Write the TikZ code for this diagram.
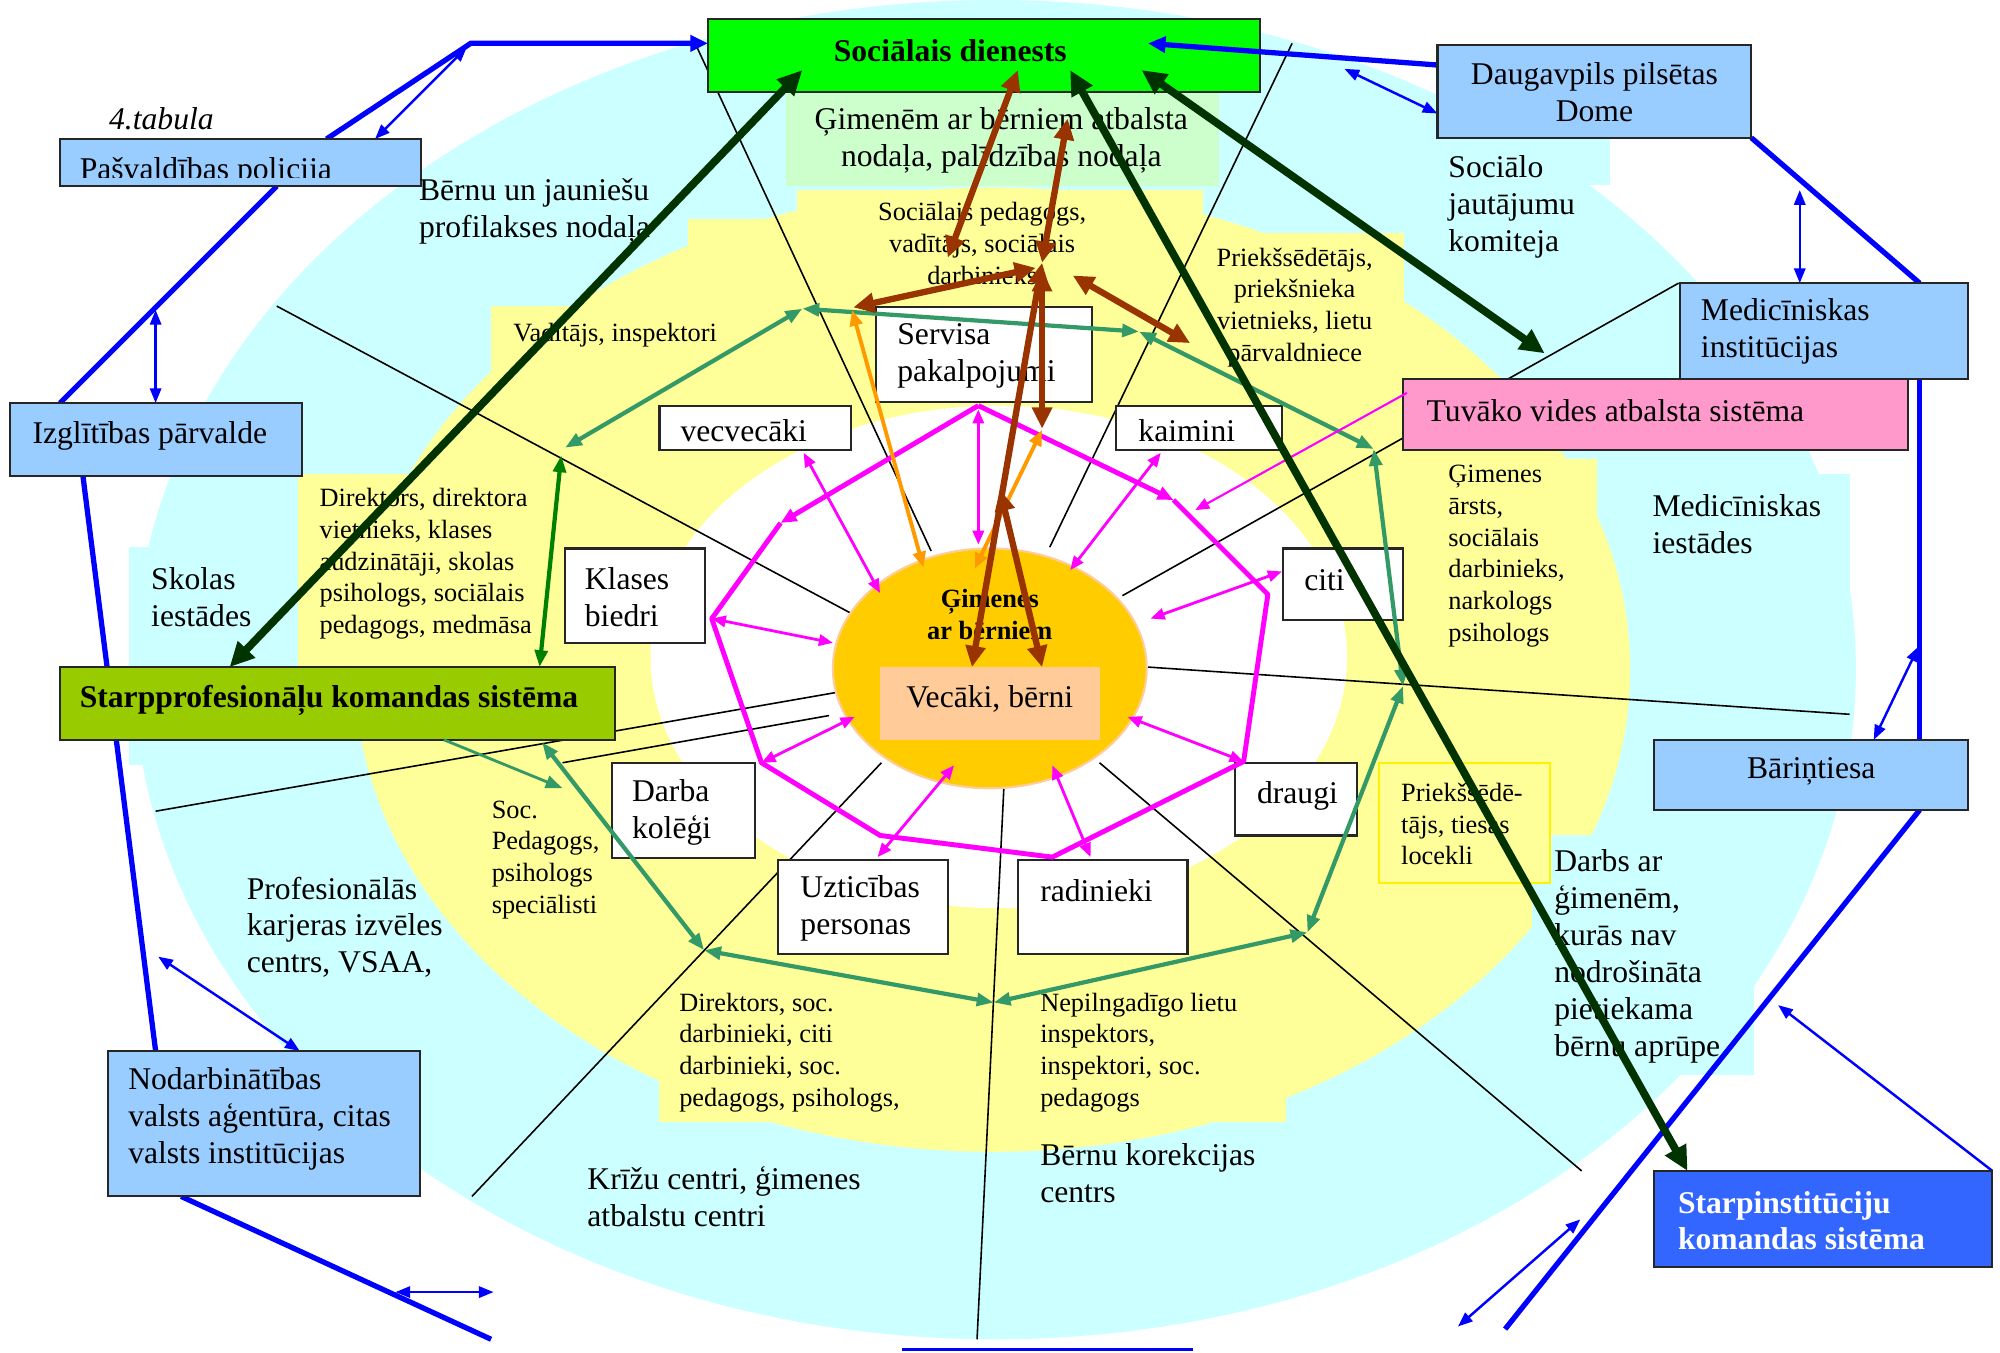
\documentclass[tikz,border=0pt]{standalone}
\usepackage{fontspec}
\setmainfont{Liberation Serif}
\usetikzlibrary{arrows.meta,fit}

\definecolor{cyanbg}{HTML}{CCFFFF}
\definecolor{yellowbg}{HTML}{FFFF99}
\definecolor{greenbg}{HTML}{CCFFCC}
\definecolor{gimorange}{HTML}{FFCC00}
\definecolor{peach}{HTML}{FFCC99}
\definecolor{boxblue}{HTML}{99CCFF}
\definecolor{pinkbox}{HTML}{FF99CC}
\definecolor{socgreen}{HTML}{00FF00}
\definecolor{olivebox}{HTML}{99CC00}
\definecolor{royalbox}{HTML}{3366FF}
\definecolor{linkblue}{HTML}{0000FF}
\definecolor{darkgr}{HTML}{003300}
\definecolor{brownarr}{HTML}{993300}
\definecolor{orangearr}{HTML}{FF9900}
\definecolor{seagreen}{HTML}{339966}
\definecolor{midgreen}{HTML}{008000}
\definecolor{magentaarr}{HTML}{FF00FF}

\newcommand{\bigfont}{\fontsize{9}{10.5}\selectfont}
\newcommand{\smallfont}{\fontsize{7.5}{9}\selectfont}

\tikzset{
  box/.style={draw=black!85,line width=0.6pt,inner sep=0pt},
  bigtext/.style={font=\bigfont,align=left,anchor=west,inner sep=0pt},
  smalltext/.style={font=\smallfont,align=left,anchor=west,inner sep=0pt},
  spoke/.style={black,line width=0.45pt},
  bluethick/.style={linkblue,line width=1.5pt,>={Triangle[length=5pt,width=4.5pt]}},
  bluethin/.style={linkblue,line width=0.7pt,<->,>={Triangle[length=4.2pt,width=3.2pt]}},
  dgarrow/.style={darkgr,line width=2.2pt,<->,>={Triangle[length=7pt,width=6.5pt]}},
  brarrow/.style={brownarr,line width=1.8pt,<->,>={Triangle[length=6pt,width=5.5pt]}},
  orarrow/.style={orangearr,line width=1.1pt,<->,>={Triangle[length=4.5pt,width=3.6pt]}},
  grarrow/.style={seagreen,line width=1.2pt,<->,>={Triangle[length=4.8pt,width=3.6pt]}},
  mgring/.style={magentaarr,line width=1.4pt,>={Triangle[length=4.5pt,width=3.8pt]}},
  mgarrow/.style={magentaarr,line width=0.8pt,<->,>={Triangle[length=4pt,width=3.2pt]}}
}

\begin{document}
\begin{tikzpicture}[x=0.012755cm,y=-0.012755cm]
	\useasboundingbox (0,0) rectangle (1568,1060);
	% layers
	\fill[cyanbg] (780,525) ellipse [x radius=675,y radius=525];
	\fill[cyanbg] (1120,100) rectangle (1262,145);
	\fill[cyanbg] (101,429) rectangle (240,600);
	\fill[cyanbg] (1290,372) rectangle (1450,600);
	\fill[yellowbg] (778,525) ellipse [x radius=500,y radius=378];
	\fill[yellowbg] (625,149) rectangle (943,240);
	\fill[yellowbg] (935,183) rectangle (1101,295);
	\fill[yellowbg] (539,172) rectangle (625,240);
	\fill[yellowbg] (385,240) rectangle (560,300);
	\fill[yellowbg] (234,372) rectangle (430,523);
	\fill[yellowbg] (367,600) rectangle (470,737);
	\fill[yellowbg] (517,770) rectangle (700,880);
	\fill[yellowbg] (798,770) rectangle (1008,880);
	\fill[yellowbg] (1125,360) rectangle (1252,510);
	\fill[cyanbg] (1201,655) rectangle (1375,843);
	\fill[white] (783,515) ellipse [x radius=273,y radius=197];
	\fill[greenbg] (616,72) rectangle (956,146);

	% spokes
	\draw[spoke] (545,34) -- (730,432);
	\draw[spoke] (1013,34) -- (823,429);
	\draw[spoke] (217,240) -- (675,485);
	\draw[spoke] (880,467) -- (1316,222);
	\draw[spoke] (900,523) -- (1450,560);
	\draw[spoke] (122,636) -- (655,543);
	\draw[spoke] (441,598) -- (650,561);
	\draw[spoke] (370,938) -- (691,598);
	\draw[spoke] (787,618) -- (766,1050);
	\draw[spoke] (862,598) -- (1240,918);

	% family circle
	\fill[gimorange,draw=peach,line width=0.6pt] (776,524) ellipse [x radius=123,y radius=94];
	\node[fill=peach,inner sep=0pt,fit={(690,523) (862,580)}] (vb) {};
	\node[font=\bigfont,inner sep=0pt] (vbtext) at (776,548) {Vecāki, bērni};
	\node[font=\smallfont\bfseries,align=center,inner sep=0pt] (gimtext) at (776,482) {Ģimenes\\ar bērniem};

	\node[box,fill=socgreen,fit={(555,15) (988,72)}] (soc) {};
	\node[font=\bigfont\bfseries,inner sep=0pt] (soctext) at (745,40) {Sociālais dienests};

	% outer blue links
	\coordinate (pasvA) at (256,109); \coordinate (bendA) at (369,34); \coordinate (socW) at (555,34);
	\coordinate (pasvB) at (217,146); \coordinate (izglA) at (47,316);
	\coordinate (izglB) at (65,373); \coordinate (nodaA) at (122,824);
	\coordinate (nodaB) at (142,938); \coordinate (lowA) at (385,1050);
	\coordinate (domeA) at (1127,51); \coordinate (socE) at (900,34);
	\coordinate (domeB) at (1373,108); \coordinate (mediA) at (1505,222);
	\coordinate (mediB) at (1505,297); \coordinate (barA) at (1505,580);
	\coordinate (barB) at (1505,635); \coordinate (lowB) at (1180,1042);
	\draw[bluethick,->] (pasvA) -- (bendA) -- (socW);
	\draw[bluethick] (pasvB) -- (izglA);
	\draw[bluethick] (izglB) -- (nodaA);
	\draw[bluethick] (nodaB) -- (lowA);
	\draw[bluethick,->] (domeA) -- (socE);
	\draw[bluethick] (domeB) -- (mediA);
	\draw[bluethick] (mediB) -- (barA);
	\draw[bluethick] (barB) -- (lowB);
	\coordinate (t1a) at (294,109); \coordinate (t1b) at (366,37);
	\coordinate (t2a) at (122,243); \coordinate (t2b) at (122,316);
	\coordinate (t3a) at (124,750); \coordinate (t3b) at (235,824);
	\coordinate (t4a) at (310,1013); \coordinate (t4b) at (387,1013);
	\coordinate (t5a) at (1054,54); \coordinate (t5b) at (1127,89);
	\coordinate (t6a) at (1411,149); \coordinate (t6b) at (1411,222);
	\coordinate (t7a) at (1469,580); \coordinate (t7b) at (1504,507);
	\coordinate (t8a) at (1143,1040); \coordinate (t8b) at (1239,956);
	\coordinate (t9a) at (1562,918); \coordinate (t9b) at (1394,788);
	\draw[bluethin] (t1a) -- (t1b);
	\draw[bluethin] (t2a) -- (t2b);
	\draw[bluethin] (t3a) -- (t3b);
	\draw[bluethin] (t4a) -- (t4b);
	\draw[bluethin] (t5a) -- (t5b);
	\draw[bluethin] (t6a) -- (t6b);
	\draw[bluethin] (t7a) -- (t7b);
	\draw[bluethin] (t8a) -- (t8b);
	\draw[bluethin,->] (t9a) -- (t9b);
	\coordinate (botA) at (707,1058); \coordinate (botB) at (935,1058);
	\draw[linkblue,line width=1pt] (botA) -- (botB);

	% boxes
	\node[box,fill=boxblue,fit={(47,109) (330,146)}] (pasv) {};
	\begin{scope}
		\clip (47,109) rectangle (330,139.5);
		\node[bigtext,anchor=base west] (pasvtext) at (62,141) {Pašvaldības policija};
	\end{scope}
	\node[box,fill=boxblue,fit={(8,316) (237,373)}] (izgl) {};
	\node[bigtext] (izgltext) at (25,342) {Izglītības pārvalde};
	\node[box,fill=boxblue,fit={(1127,35) (1373,108)}] (dome) {};
	\node[bigtext,anchor=center,align=center] (dometext) at (1250,72) {Daugavpils pilsētas\\Dome};
	\node[box,fill=boxblue,fit={(1317,222) (1543,297)}] (medi) {};
	\node[bigtext] (meditext) at (1333,260) {Medicīniskas\\institūcijas};
	\node[box,fill=pinkbox,fit={(1100,297) (1496,353)}] (tuv) {};
	\node[bigtext] (tuvtext) at (1118,322) {Tuvāko vides atbalsta sistēma};
	\node[box,fill=boxblue,fit={(1297,580) (1543,635)}] (bar) {};
	\node[font=\bigfont,inner sep=0pt] (bartext) at (1420,605) {Bāriņtiesa};
	\node[box,fill=royalbox,fit={(1297,918) (1562,993)}] (starpi) {};
	\node[bigtext,font=\bigfont\bfseries,text=white] (starpitext) at (1315,957) {Starpinstitūciju\\komandas sistēma};
	\node[box,fill=boxblue,fit={(85,824) (329,938)}] (noda) {};
	\node[bigtext] (nodatext) at (100,877) {Nodarbinātības\\valsts aģentūra, citas\\valsts institūcijas};
	\node[box,fill=olivebox,fit={(47,523) (482,580)}] (starpp) {};
	\node[bigtext,font=\bigfont\bfseries] (starpptext) at (62,549) {Starpprofesionāļu komandas sistēma};
	\node[box,fill=white,fit={(687,241) (856,315)}] (serv) {};
	\node[bigtext] (servtext) at (703,279) {Servisa\\pakalpojumi};
	\node[box,fill=white,fit={(517,318) (667,353)}] (vecv) {};
	\node[bigtext] (vecvtext) at (533,338) {vecvecāki};
	\node[box,fill=white,fit={(875,318) (1005,353)}] (kaim) {};
	\node[bigtext] (kaimtext) at (892,338) {kaimini};
	\node[box,fill=white,fit={(443,430) (553,504)}] (klas) {};
	\node[bigtext] (klastext) at (458,468) {Klases\\biedri};
	\node[box,fill=white,fit={(1006,430) (1100,486)}] (citi) {};
	\node[bigtext] (cititext) at (1022,455) {citi};
	\node[box,fill=white,fit={(480,598) (592,673)}] (darb) {};
	\node[bigtext] (darbtext) at (495,637) {Darba\\kolēģi};
	\node[box,fill=white,fit={(968,598) (1064,655)}] (drau) {};
	\node[bigtext] (drautext) at (985,624) {draugi};
	\node[box,fill=white,fit={(610,674) (743,748)}] (uzti) {};
	\node[bigtext] (uztitext) at (627,712) {Uzticības\\personas};
	\node[box,fill=white,fit={(798,674) (931,748)}] (radi) {};
	\node[bigtext] (raditext) at (815,698) {radinieki};
	\node[box,draw=yellow,fill=yellowbg,fit={(1081,598) (1215,692)}] (prie) {};
	\node[smalltext] (prietext) at (1098,646) {Priekšsēdē-\\tājs, tiesas\\locekli};

	% labels
	\node[bigtext,font=\bigfont\itshape] (tabula) at (85,93) {4.tabula};
	\node[bigtext] (bjpn) at (328,166) {Bērnu un jauniešu\\profilakses nodaļa};
	\node[bigtext,anchor=center,align=center] (gimnod) at (785,110) {Ģimenēm ar bērniem atbalsta\\nodaļa, palīdzības nodaļa};
	\node[smalltext,anchor=center,align=center] (socped) at (770,191) {Sociālais pedagogs,\\vadītājs, sociālais\\darbinieks};
	\node[smalltext] (vaditajs) at (402,263) {Vadītājs, inspektori};
	\node[smalltext,anchor=center,align=center] (priek) at (1015,241) {Priekšsēdētājs,\\priekšnieka\\vietnieks, lietu\\pārvaldniece};
	\node[bigtext] (komit) at (1135,162) {Sociālo\\jautājumu\\komiteja};
	\node[bigtext] (mediest) at (1295,411) {Medicīniskas\\iestādes};
	\node[smalltext] (gimars) at (1135,436) {Ģimenes\\ārsts,\\sociālais\\darbinieks,\\narkologs\\psihologs};
	\node[bigtext] (skolas) at (118,468) {Skolas\\iestādes};
	\node[smalltext] (direkt) at (250,442) {Direktors, direktora\\vietnieks, klases\\audzinātāji, skolas\\psihologs, sociālais\\pedagogs, medmāsa};
	\node[smalltext] (socpsih) at (385,674) {Soc.\\Pedagogs,\\psihologs\\speciālisti};
	\node[bigtext] (prof) at (193,727) {Profesionālās\\karjeras izvēles\\centrs, VSAA,};
	\node[smalltext] (direkt2) at (532,825) {Direktors, soc.\\darbinieki, citi\\darbinieki, soc.\\pedagogs, psihologs,};
	\node[smalltext] (nepiln) at (815,825) {Nepilngadīgo lietu\\inspektors,\\inspektori, soc.\\pedagogs};
	\node[bigtext] (krizu) at (460,938) {Krīžu centri, ģimenes\\atbalstu centri};
	\node[bigtext] (korek) at (815,920) {Bērnu korekcijas\\centrs};
	\node[bigtext] (darbs) at (1218,750) {Darbs ar\\ģimenēm,\\kurās nav\\nodrošināta\\pietiekama\\bērnu aprūpe};

	% green ring
	\coordinate (p1) at (629,242); \coordinate (p2) at (893,260); \coordinate (p3) at (1077,352);
	\coordinate (p4) at (1100,538); \coordinate (p5) at (1025,731); \coordinate (p6) at (779,786);
	\coordinate (p7) at (552,745); \coordinate (p8) at (425,582); \coordinate (p9) at (443,351);
	\draw[grarrow] (p9) -- (p1);
	\draw[grarrow] (p1) -- (p2);
	\draw[grarrow] (p2) -- (p3);
	\draw[grarrow] (p3) -- (p4);
	\draw[grarrow] (p4) -- (p5);
	\draw[grarrow] (p5) -- (p6);
	\draw[grarrow] (p6) -- (p7);
	\draw[grarrow] (p7) -- (p8);
	\coordinate (p9b) at (440,357); \coordinate (starppN) at (423,523);
	\draw[grarrow,midgreen] (p9b) -- (starppN);
	\coordinate (starppS) at (348,580); \coordinate (e10) at (441,618);
	\draw[grarrow,->,line width=0.8pt] (starppS) -- (e10);

	% magenta ring
	\coordinate (m0) at (767,318); \coordinate (m1) at (612,410); \coordinate (m2) at (558,485);
	\coordinate (m3) at (597,598); \coordinate (m4) at (690,655); \coordinate (m5) at (825,672);
	\coordinate (m6) at (975,597); \coordinate (m7) at (994,466); \coordinate (m8) at (920,392);
	\draw[mgring,->] (m0) -- (m1);
	\draw[mgring,->] (m0) -- (m8);
	\draw[mgring,line join=round] (m1) -- (m2) -- (m3) -- (m4) -- (m5) -- (m6) -- (m7) -- (m8);
	\coordinate (k1a) at (767,321); \coordinate (k1b) at (767,427);
	\coordinate (k2a) at (630,355); \coordinate (k2b) at (690,465);
	\coordinate (k3a) at (910,355); \coordinate (k3b) at (839,447);
	\coordinate (k4a) at (1005,448); \coordinate (k4b) at (902,485);
	\coordinate (k5b) at (653,504);
	\coordinate (k6b) at (670,562);
	\coordinate (k7a) at (688,672); \coordinate (k7b) at (748,600);
	\coordinate (k8a) at (855,672); \coordinate (k8b) at (825,600);
	\coordinate (k9b) at (884,562);
	\coordinate (tuvW) at (1103,308); \coordinate (k10) at (937,400);
	\draw[mgarrow] (k1a) -- (k1b);
	\draw[mgarrow] (k2a) -- (k2b);
	\draw[mgarrow] (k3a) -- (k3b);
	\draw[mgarrow] (k4a) -- (k4b);
	\draw[mgarrow] (m2) -- (k5b);
	\draw[mgarrow] (m3) -- (k6b);
	\draw[mgarrow] (k7a) -- (k7b);
	\draw[mgarrow] (k8a) -- (k8b);
	\draw[mgarrow] (m6) -- (k9b);
	\draw[mgarrow,->,line width=0.6pt] (tuvW) -- (k10);

	% orange
	\coordinate (o1a) at (668,243); \coordinate (o1b) at (724,445);
	\coordinate (o2a) at (817,337); \coordinate (o2b) at (764,446);
	\draw[orarrow] (o1a) -- (o1b);
	\draw[orarrow] (o2a) -- (o2b);

	% brown
	\coordinate (hub) at (817,206);
	\coordinate (r1a) at (743,202); \coordinate (r1b) at (798,55);
	\coordinate (r2b) at (837,93);
	\coordinate (r3a) at (669,241); \coordinate (r3b) at (812,210);
	\coordinate (r4a) at (817,212); \coordinate (r4b) at (817,336);
	\coordinate (r5a) at (841,216); \coordinate (r5b) at (933,269);
	\coordinate (vbA) at (762,523); \coordinate (vbB) at (817,523); \coordinate (r7a) at (784,384);
	\draw[brarrow] (r1a) -- (r1b);
	\draw[brarrow] (hub) -- (r2b);
	\draw[brarrow] (r3a) -- (r3b);
	\draw[brarrow] (r4a) -- (r4b);
	\draw[brarrow] (r5a) -- (r5b);
	\draw[brarrow] (vbA) -- (hub);
	\draw[brarrow] (vbB) -- (r7a);

	% dark green
	\coordinate (socS1) at (629,55); \coordinate (starppT) at (180,523);
	\coordinate (socS2) at (839,55); \coordinate (starpiT) at (1323,918);
	\coordinate (socS3) at (895,55); \coordinate (g3) at (1211,277);
	\draw[dgarrow] (socS1) -- (starppT);
	\draw[dgarrow] (socS2) -- (starpiT);
	\draw[dgarrow] (socS3) -- (g3);
\end{tikzpicture}
\end{document}
